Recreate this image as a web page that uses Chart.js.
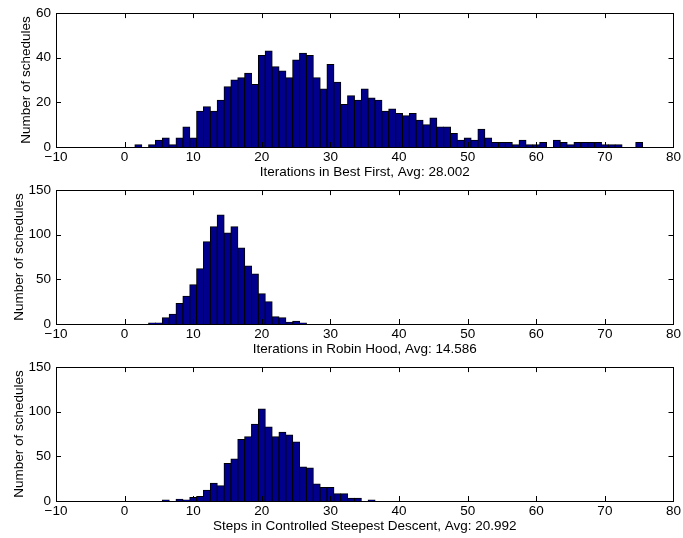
<!DOCTYPE html>
<html>
<head>
<meta charset="utf-8">
<title>Schedule iteration histograms</title>
<script src="https://cdn.jsdelivr.net/npm/chart.js@4.4.0/dist/chart.umd.min.js"></script>
<style>
  html, body { margin: 0; padding: 0; background: #fff; }
  #wrap { position: relative; width: 683px; height: 538px; }
  #wrap canvas { position: absolute; left: 0; }
</style>
</head>
<body>
<div id="wrap">
  <canvas id="bestFirst" width="683" height="184" style="top:0px"></canvas>
  <canvas id="robinHood" width="683" height="184" style="top:177px"></canvas>
  <canvas id="steepest" width="683" height="184" style="top:354px"></canvas>
</div>
<script>
// histogram bins (iteration counts) and number of schedules per bin
const bestFirstBins = [2, 3, 4, 5, 6, 7, 8, 9, 10, 11, 12, 13, 14, 15, 16, 17, 18, 19, 20, 21, 22, 23, 24, 25, 26, 27, 28, 29, 30, 31, 32, 33, 34, 35, 36, 37, 38, 39, 40, 41, 42, 43, 44, 45, 46, 47, 48, 49, 50, 51, 52, 53, 54, 55, 56, 57, 58, 59, 60, 61, 62, 63, 64, 65, 66, 67, 68, 69, 70, 71, 72, 73, 74, 75];
const bestFirstCounts = [1, 0, 1, 3, 4, 1, 4, 9, 4, 16, 18, 16, 21, 27, 30, 31, 33, 28, 41, 43, 36, 34, 31, 39, 42, 41, 31, 26, 37, 29, 19, 23, 21, 26, 22, 21, 16, 17, 15, 14, 15, 12, 10, 13, 9, 9, 6, 3, 4, 3, 8, 4, 2, 2, 2, 1, 3, 1, 1, 2, 0, 3, 2, 1, 2, 2, 2, 2, 1, 1, 1, 0, 0, 2];

const robinHoodBins = [4, 5, 6, 7, 8, 9, 10, 11, 12, 13, 14, 15, 16, 17, 18, 19, 20, 21, 22, 23, 24, 25, 26];
const robinHoodCounts = [1, 1, 7, 11, 23, 31, 44, 62, 92, 109, 122, 102, 109, 85, 65, 56, 34, 25, 8, 7, 2, 3, 1];

const steepestBins = [6, 7, 8, 9, 10, 11, 12, 13, 14, 15, 16, 17, 18, 19, 20, 21, 22, 23, 24, 25, 26, 27, 28, 29, 30, 31, 32, 33, 34, 35, 36];
const steepestCounts = [1, 0, 2, 1, 4, 5, 12, 20, 17, 42, 47, 69, 72, 86, 103, 83, 72, 77, 74, 66, 38, 37, 19, 15, 15, 8, 8, 3, 3, 0, 1];

const xTicks = [-10, 0, 10, 20, 30, 40, 50, 60, 70, 80];

const FONT = { family: "'Liberation Sans', Arial, Helvetica, sans-serif", size: 13.5 };
const BAR_FILL = '#00008c';

// box around the plot area with inward tick marks on all four sides
const boxTicks = {
  id: 'boxTicks',
  afterDatasetsDraw(chart) {
    const { ctx, chartArea: a, scales: { x, y } } = chart;
    const len = 5;
    ctx.save();
    ctx.strokeStyle = '#000';
    ctx.lineWidth = 1;
    ctx.beginPath();
    x.ticks.forEach((t) => {
      const px = Math.round(x.getPixelForValue(t.value)) + 0.5;
      ctx.moveTo(px, a.bottom); ctx.lineTo(px, a.bottom - len);
      ctx.moveTo(px, a.top); ctx.lineTo(px, a.top + len);
    });
    y.ticks.forEach((t) => {
      const py = Math.round(y.getPixelForValue(t.value)) + 0.5;
      ctx.moveTo(a.left, py); ctx.lineTo(a.left + len, py);
      ctx.moveTo(a.right, py); ctx.lineTo(a.right - len, py);
    });
    ctx.stroke();
    ctx.strokeRect(Math.round(a.left) + 0.5, Math.round(a.top) + 0.5,
      Math.round(a.width), Math.round(a.height));
    ctx.restore();
  }
};

// yTitlePad: space left of the rotated y label (wider tick labels push it outwards)
function drawHist(canvasId, bins, counts, yMax, yStep, xTitle, yTitlePad) {
  const points = bins.map((b, i) => ({ x: b, y: counts[i] }));
  const ctx = document.getElementById(canvasId).getContext('2d');
  return new Chart(ctx, {
    type: 'bar',
    data: {
      datasets: [{
        data: points,
        backgroundColor: BAR_FILL,
        borderColor: '#000',
        borderWidth: 1,
        borderSkipped: 'bottom',
        inflateAmount: 0.5,
        barPercentage: 1,
        categoryPercentage: 1
      }]
    },
    options: {
      responsive: false,
      devicePixelRatio: 1,
      animation: false,
      layout: { padding: { top: 13, right: 7, left: 0, bottom: 0 } },
      plugins: { legend: { display: false }, tooltip: { enabled: false } },
      scales: {
        x: {
          type: 'linear',
          offset: false,
          min: -10,
          max: 80,
          afterBuildTicks: (scale) => { scale.ticks = xTicks.map((v) => ({ value: v })); },
          afterFit: (scale) => { scale.height = 37; },
          grid: { display: false, drawTicks: false },
          border: { display: false },
          ticks: {
            color: '#000',
            font: FONT,
            padding: 2,
            maxRotation: 0,
            autoSkip: false,
            callback: (v) => (v < 0 ? '\u2212' + Math.abs(v) : String(v))
          },
          title: {
            display: true,
            text: xTitle,
            color: '#000',
            font: FONT,
            padding: { top: 0, bottom: 4 }
          }
        },
        y: {
          min: 0,
          max: yMax,
          afterFit: (scale) => { scale.width = 56; },
          grid: { display: false, drawTicks: false },
          border: { display: false },
          ticks: { color: '#000', font: FONT, stepSize: yStep, padding: 5 },
          title: {
            display: true,
            text: 'Number of schedules',
            color: '#000',
            font: FONT,
            padding: { top: yTitlePad, bottom: 0 }
          }
        }
      }
    },
    plugins: [boxTicks]
  });
}

drawHist('bestFirst', bestFirstBins, bestFirstCounts, 60, 20, 'Iterations in Best First, Avg: 28.002', 18);
drawHist('robinHood', robinHoodBins, robinHoodCounts, 150, 50, 'Iterations in Robin Hood, Avg: 14.586', 11);
drawHist('steepest', steepestBins, steepestCounts, 150, 50, 'Steps in Controlled Steepest Descent, Avg: 20.992', 11);
</script>
</body>
</html>
